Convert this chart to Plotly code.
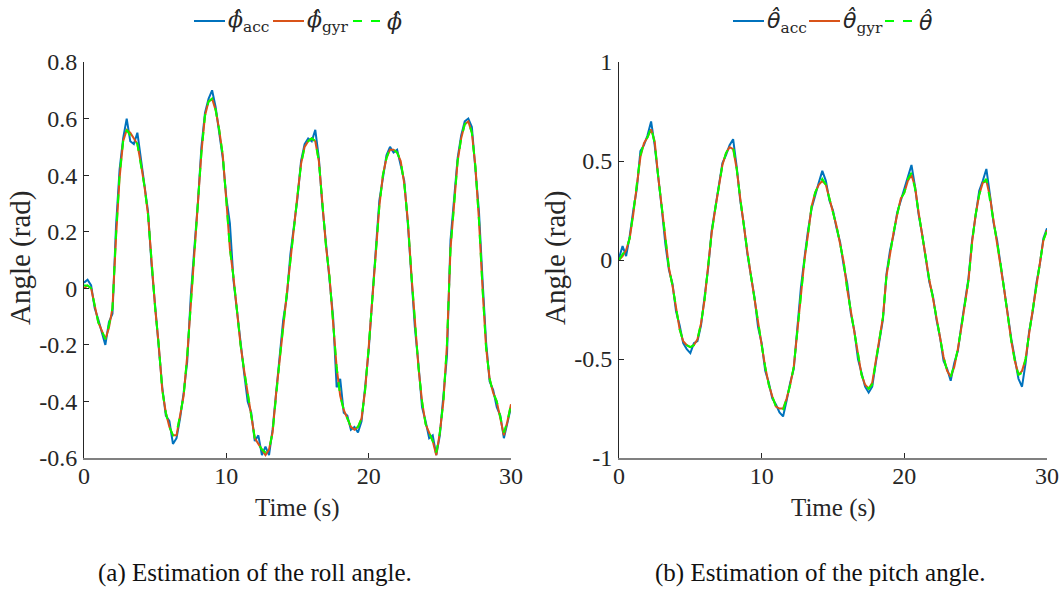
import plotly.graph_objects as go

# ---------------- data ----------------
time_s = [i * 0.25 for i in range(121)]

roll_acc = [0.02, 0.03, 0.01, -0.07, -0.11, -0.16, -0.20, -0.12, -0.09, 0.22,
            0.42, 0.53, 0.60, 0.52, 0.51, 0.55, 0.45, 0.35, 0.27, 0.08,
            -0.06, -0.21, -0.35, -0.45, -0.47, -0.55, -0.53, -0.46, -0.37, -0.26,
            -0.03, 0.14, 0.30, 0.50, 0.62, 0.67, 0.70, 0.64, 0.55, 0.46,
            0.32, 0.23, 0.03, -0.09, -0.19, -0.30, -0.40, -0.44, -0.54, -0.52,
            -0.59, -0.56, -0.59, -0.50, -0.38, -0.24, -0.11, -0.03, 0.12, 0.22,
            0.32, 0.45, 0.51, 0.53, 0.52, 0.56, 0.46, 0.29, 0.16, 0.03,
            -0.10, -0.35, -0.32, -0.44, -0.45, -0.50, -0.49, -0.51, -0.47, -0.35,
            -0.22, -0.04, 0.14, 0.31, 0.39, 0.47, 0.50, 0.48, 0.49, 0.44,
            0.38, 0.23, 0.06, -0.14, -0.27, -0.42, -0.47, -0.53, -0.52, -0.59,
            -0.52, -0.39, -0.24, 0.17, 0.31, 0.46, 0.54, 0.59, 0.60, 0.57,
            0.42, 0.27, 0.03, -0.19, -0.33, -0.36, -0.42, -0.45, -0.53, -0.48,
            -0.42]
roll_gyr = [0.00, 0.01, 0.00, -0.06, -0.12, -0.15, -0.18, -0.14, -0.07, 0.18,
            0.39, 0.52, 0.56, 0.55, 0.53, 0.51, 0.44, 0.36, 0.26, 0.09,
            -0.07, -0.20, -0.36, -0.44, -0.49, -0.52, -0.52, -0.45, -0.38, -0.24,
            -0.05, 0.10, 0.29, 0.48, 0.61, 0.66, 0.67, 0.63, 0.56, 0.47,
            0.31, 0.14, 0.04, -0.08, -0.20, -0.29, -0.37, -0.45, -0.53, -0.55,
            -0.57, -0.59, -0.57, -0.51, -0.37, -0.25, -0.13, -0.02, 0.10, 0.21,
            0.33, 0.44, 0.50, 0.52, 0.53, 0.52, 0.45, 0.30, 0.15, 0.04,
            -0.11, -0.28, -0.38, -0.43, -0.46, -0.49, -0.50, -0.49, -0.46, -0.36,
            -0.21, -0.05, 0.13, 0.29, 0.40, 0.46, 0.49, 0.49, 0.48, 0.45,
            0.37, 0.24, 0.05, -0.13, -0.28, -0.40, -0.48, -0.51, -0.54, -0.59,
            -0.51, -0.40, -0.20, 0.14, 0.30, 0.45, 0.53, 0.58, 0.59, 0.55,
            0.43, 0.24, 0.00, -0.21, -0.32, -0.37, -0.40, -0.46, -0.52, -0.47,
            -0.41]
roll_est = [0.01, 0.01, 0.00, -0.06, -0.12, -0.15, -0.18, -0.13, -0.07, 0.19,
            0.40, 0.52, 0.56, 0.54, 0.53, 0.51, 0.44, 0.36, 0.26, 0.09,
            -0.07, -0.20, -0.36, -0.44, -0.49, -0.52, -0.51, -0.45, -0.38, -0.24,
            -0.05, 0.10, 0.29, 0.48, 0.61, 0.66, 0.67, 0.63, 0.56, 0.47,
            0.31, 0.14, 0.04, -0.08, -0.20, -0.29, -0.37, -0.45, -0.53, -0.55,
            -0.57, -0.58, -0.57, -0.51, -0.37, -0.25, -0.13, -0.02, 0.10, 0.21,
            0.33, 0.44, 0.50, 0.52, 0.53, 0.52, 0.45, 0.30, 0.15, 0.04,
            -0.11, -0.28, -0.38, -0.43, -0.46, -0.49, -0.50, -0.49, -0.46, -0.36,
            -0.21, -0.05, 0.13, 0.29, 0.40, 0.46, 0.495, 0.49, 0.48, 0.45,
            0.37, 0.24, 0.05, -0.13, -0.28, -0.40, -0.48, -0.51, -0.54, -0.58,
            -0.51, -0.40, -0.20, 0.14, 0.30, 0.45, 0.53, 0.58, 0.59, 0.55,
            0.43, 0.24, 0.00, -0.21, -0.32, -0.37, -0.40, -0.46, -0.51, -0.47,
            -0.41]

pitch_acc = [0.01, 0.07, 0.02, 0.12, 0.25, 0.36, 0.55, 0.58, 0.63, 0.70,
             0.58, 0.43, 0.26, 0.08, -0.05, -0.12, -0.26, -0.33, -0.42, -0.45,
             -0.47, -0.42, -0.41, -0.33, -0.19, -0.04, 0.15, 0.27, 0.37, 0.49,
             0.53, 0.58, 0.61, 0.47, 0.30, 0.18, 0.03, -0.09, -0.19, -0.34,
             -0.42, -0.56, -0.62, -0.70, -0.73, -0.77, -0.79, -0.71, -0.62, -0.55,
             -0.36, -0.14, 0.01, 0.15, 0.26, 0.33, 0.39, 0.45, 0.40, 0.30,
             0.25, 0.16, 0.09, -0.03, -0.12, -0.27, -0.36, -0.50, -0.57, -0.64,
             -0.67, -0.64, -0.52, -0.40, -0.30, -0.07, 0.05, 0.13, 0.24, 0.30,
             0.36, 0.42, 0.48, 0.37, 0.23, 0.13, 0.01, -0.11, -0.18, -0.30,
             -0.39, -0.51, -0.55, -0.61, -0.52, -0.46, -0.33, -0.22, -0.09, 0.10,
             0.22, 0.35, 0.40, 0.46, 0.33, 0.19, 0.10, -0.03, -0.14, -0.29,
             -0.40, -0.50, -0.60, -0.64, -0.52, -0.36, -0.26, -0.12, -0.02, 0.11,
             0.16]
pitch_gyr = [0.00, 0.02, 0.05, 0.11, 0.23, 0.39, 0.52, 0.59, 0.62, 0.66,
             0.60, 0.42, 0.27, 0.10, -0.04, -0.13, -0.25, -0.35, -0.41, -0.43,
             -0.44, -0.43, -0.40, -0.32, -0.20, -0.02, 0.14, 0.26, 0.38, 0.48,
             0.54, 0.57, 0.56, 0.46, 0.31, 0.17, 0.04, -0.08, -0.20, -0.33,
             -0.43, -0.54, -0.63, -0.69, -0.74, -0.75, -0.75, -0.70, -0.63, -0.54,
             -0.35, -0.16, 0.00, 0.13, 0.27, 0.34, 0.38, 0.40, 0.38, 0.31,
             0.24, 0.17, 0.08, -0.01, -0.15, -0.26, -0.37, -0.49, -0.58, -0.63,
             -0.65, -0.62, -0.51, -0.41, -0.29, -0.08, 0.04, 0.14, 0.23, 0.31,
             0.34, 0.40, 0.43, 0.37, 0.24, 0.12, 0.00, -0.10, -0.19, -0.29,
             -0.40, -0.49, -0.56, -0.59, -0.54, -0.45, -0.34, -0.21, -0.10, 0.09,
             0.23, 0.33, 0.39, 0.40, 0.32, 0.20, 0.09, -0.02, -0.15, -0.28,
             -0.41, -0.51, -0.58, -0.56, -0.50, -0.37, -0.25, -0.13, -0.01, 0.10,
             0.15]
pitch_est = [0.00, 0.03, 0.05, 0.11, 0.24, 0.39, 0.53, 0.59, 0.62, 0.67,
             0.59, 0.42, 0.27, 0.10, -0.04, -0.13, -0.25, -0.35, -0.41, -0.43,
             -0.44, -0.43, -0.40, -0.32, -0.20, -0.02, 0.14, 0.26, 0.38, 0.48,
             0.54, 0.57, 0.57, 0.46, 0.31, 0.17, 0.04, -0.08, -0.20, -0.33,
             -0.43, -0.54, -0.63, -0.69, -0.74, -0.75, -0.76, -0.70, -0.63, -0.54,
             -0.35, -0.16, 0.00, 0.13, 0.27, 0.34, 0.38, 0.41, 0.38, 0.31,
             0.24, 0.17, 0.08, -0.01, -0.15, -0.26, -0.37, -0.49, -0.58, -0.63,
             -0.65, -0.63, -0.51, -0.41, -0.29, -0.08, 0.04, 0.14, 0.23, 0.31,
             0.34, 0.41, 0.44, 0.36, 0.24, 0.12, 0.00, -0.10, -0.19, -0.29,
             -0.40, -0.49, -0.56, -0.59, -0.53, -0.45, -0.34, -0.21, -0.10, 0.09,
             0.23, 0.33, 0.39, 0.41, 0.31, 0.20, 0.09, -0.02, -0.15, -0.28,
             -0.41, -0.51, -0.58, -0.57, -0.50, -0.37, -0.25, -0.13, -0.01, 0.10,
             0.15]

x_ticks = [0, 10, 20, 30]
x_tick_labels = ["0", "10", "20", "30"]
roll_ticks = [-0.6, -0.4, -0.2, 0, 0.2, 0.4, 0.6, 0.8]
roll_tick_labels = ["-0.6", "-0.4", "-0.2", "0", "0.2", "0.4", "0.6", "0.8"]
pitch_ticks = [-1, -0.5, 0, 0.5, 1]
pitch_tick_labels = ["-1", "-0.5", "0", "0.5", "1"]

SUBSTYLE = '<span style="font-family:DejaVu Serif">'
roll_names = ["<i>ϕ̂</i><sub>acc</sub>", "<i>ϕ̂</i><sub>gyr</sub>", "<i>ϕ̂</i>"]
pitch_names = ["<i>θ̂</i><sub>" + SUBSTYLE + "acc</span></sub>",
               "<i>θ̂</i><sub>" + SUBSTYLE + "gyr</span></sub>", "<i>θ̂</i>"]
captions = ["(a) Estimation of the roll angle.", "(b) Estimation of the pitch angle."]

# ---------------- style ----------------
W, H = 1060, 595
FONT = "'Liberation Serif', 'DejaVu Serif', serif"
LEGFONT_ROLL = "'DejaVu Serif', serif"
LEGFONT_PITCH = "'DejaVu Sans', sans-serif"
TXT = "#262626"
C_ACC, C_GYR, C_EST = "#0072BD", "#D95319", "#00FF00"
styles = [dict(color=C_ACC, width=2), dict(color=C_GYR, width=2),
          dict(color=C_EST, width=2, dash="dash")]

fig = go.Figure()

def add_set(ys, names, xa, ya):
    for y, n, s in zip(ys, names, styles):
        fig.add_trace(go.Scatter(x=time_s, y=y, mode="lines", name=n, line=s,
                                 xaxis=xa, yaxis=ya, showlegend=False))

add_set([roll_acc, roll_gyr, roll_est], roll_names, "x", "y")
add_set([pitch_acc, pitch_gyr, pitch_est], pitch_names, "x2", "y2")

def px_x(p):
    return p / W

def px_y(p):
    return 1 - p / H

ydom = [px_y(458), px_y(62)]
axis_common = dict(showline=True, linecolor=TXT, linewidth=1, ticks="inside",
                   ticklen=5, tickcolor=TXT, showgrid=False, zeroline=False,
                   automargin=False,
                   tickfont=dict(family=FONT, size=24, color=TXT), mirror=False)
xaxis_extra = dict(linecolor="#808080", linewidth=1.5, ticklabelstandoff=-5)
yaxis_extra = dict(ticklabelstandoff=1)

fig.update_layout(
    width=W, height=H,
    margin=dict(l=0, r=0, t=0, b=0, autoexpand=False),
    paper_bgcolor="white", plot_bgcolor="white",
    font=dict(family=FONT, size=24, color=TXT),
    showlegend=False,
    xaxis=dict(domain=[px_x(84), px_x(511)], range=[0, 30], tickvals=x_ticks,
               ticktext=x_tick_labels, anchor="y", **{**axis_common, **xaxis_extra}),
    yaxis=dict(domain=ydom, range=[-0.6, 0.8], tickvals=roll_ticks,
               ticktext=roll_tick_labels, anchor="x", **{**axis_common, **yaxis_extra}),
    xaxis2=dict(domain=[px_x(619), px_x(1047)], range=[0, 30], tickvals=x_ticks,
                ticktext=x_tick_labels, anchor="y2", **{**axis_common, **xaxis_extra}),
    yaxis2=dict(domain=ydom, range=[-1, 1], tickvals=pitch_ticks,
                ticktext=pitch_tick_labels, anchor="x2", **{**axis_common, **yaxis_extra}),
)

ann = []
shapes = []
# legends (line sample + label), drawn by hand so the hats are not clipped
legend_layout = [
    (roll_names, [194, 273, 353], LEGFONT_ROLL),
    (pitch_names, [733, 809, 885], LEGFONT_PITCH),
]
LEG_Y = 21
for names, starts, fam in legend_layout:
    for n, x0, s in zip(names, starts, styles):
        shapes.append(dict(type="line", xref="paper", yref="paper",
                           x0=px_x(x0), x1=px_x(x0 + 31), y0=px_y(LEG_Y), y1=px_y(LEG_Y),
                           line=dict(color=s["color"], width=2, dash=s.get("dash", "solid"))))
        ann.append(dict(text=n, x=px_x(x0 + 32), y=px_y(LEG_Y + 1), xref="paper", yref="paper",
                        xanchor="left", yanchor="middle", showarrow=False,
                        font=dict(family=fam, size=22, color=TXT)))

for cx in (297, 833):
    ann.append(dict(text="Time (s)", x=px_x(cx), y=px_y(508), xref="paper", yref="paper",
                    xanchor="center", yanchor="middle",
                    showarrow=False, font=dict(family=FONT, size=25, color=TXT)))
for cx in (20, 555):
    ann.append(dict(text="Angle (rad)", x=px_x(cx), y=px_y(258), xref="paper", yref="paper",
                    xanchor="center", yanchor="middle",
                    showarrow=False, textangle=-90, font=dict(family=FONT, size=29, color=TXT)))
for cx, cap in zip((255, 820), captions):
    ann.append(dict(text=cap, x=px_x(cx), y=px_y(573), xref="paper", yref="paper",
                    xanchor="center", yanchor="middle",
                    showarrow=False, font=dict(family=FONT, size=25, color="#111111")))
fig.update_layout(annotations=ann, shapes=shapes)

fig.write_html("out.html", post_script="document.body.style.margin='0';",
               config={"displayModeBar": False})
